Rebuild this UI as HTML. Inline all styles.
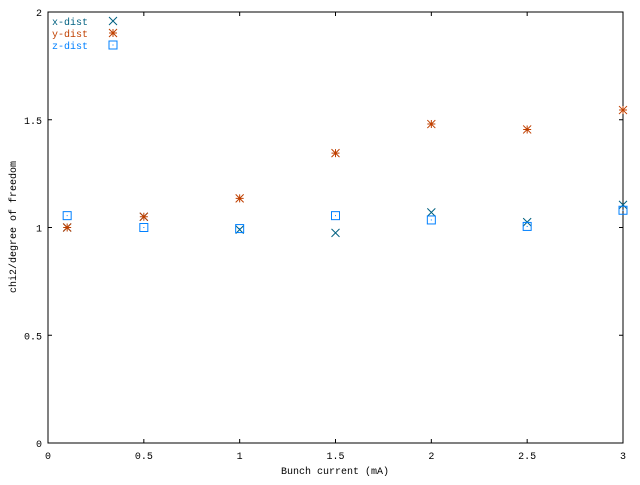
<!DOCTYPE html>
<html><head><meta charset="utf-8"><style>
body{margin:0;background:#fff}
svg text{font-family:"Liberation Mono",monospace;font-size:10px}
</style></head><body>
<svg id="chart" width="640" height="480" xmlns="http://www.w3.org/2000/svg">
<rect x="0" y="0" width="640" height="480" fill="#fff"/>
<g id="axes"></g>
<g id="marks"></g>
<text x="335" y="474" text-anchor="middle">Bunch current (mA)</text>
<text transform="translate(16,227) rotate(-90)" text-anchor="middle">chi2/degree of freedom</text>
<g>
<text x="52" y="25" fill="#006080">x-dist</text>
<text x="52" y="37" fill="#c04000">y-dist</text>
<text x="52" y="49" fill="#0080ff">z-dist</text>
</g>
</svg>
<script>
const xValues=[0.1,0.5,1,1.5,2,2.5,3];
const xDist=[1.0,1.05,0.99,0.975,1.07,1.025,1.105];
const yDist=[1.0,1.05,1.135,1.345,1.48,1.455,1.545];
const zDist=[1.055,1.0,0.995,1.055,1.035,1.005,1.08];
const xTicks=[0,0.5,1,1.5,2,2.5,3];
const yTicks=[0,0.5,1,1.5,2];
const X0=48,X1=623,Y0=443,Y1=12;
const sx=v=>X0+v/3*(X1-X0);
const sy=v=>Y0-v/2*(Y0-Y1);
const NS="http://www.w3.org/2000/svg";
function mk(tag,attrs,parent){const e=document.createElementNS(NS,tag);for(const k in attrs)e.setAttribute(k,attrs[k]);parent.appendChild(e);return e;}
const axes=document.getElementById('axes'),marks=document.getElementById('marks');
const frame=mk('rect',{x:X0,y:Y1,width:X1-X0,height:Y0-Y1,fill:'none',stroke:'#000','stroke-width':1},axes);


xTicks.forEach(t=>{const x=sx(t);
 const l=mk('path',{d:`M${x} ${Y0}v-4M${x} ${Y1}v4`,stroke:'#000'},axes);
 
 
 const tx=mk('text',{x:x,y:Y0+16,'text-anchor':'middle'},axes);tx.textContent=t;
 
 });
yTicks.forEach(t=>{const y=sy(t);
 const l=mk('path',{d:`M${X0} ${y}h4M${X1} ${y}h-4`,stroke:'#000'},axes);
 
 
 const tx=mk('text',{x:X0-6,y:y+4,'text-anchor':'end'},axes);tx.textContent=t;
 
 });
function cross(x,y,c,p){return mk('path',{d:`M${x-4} ${y-4}l8 8M${x-4} ${y+4}l8 -8`,stroke:c,fill:'none'},p);}
function star(x,y,c,p){return mk('path',{d:`M${x-4} ${y-4}l8 8M${x-4} ${y+4}l8 -8M${x-4} ${y}h8M${x} ${y-4}v8`,stroke:c,fill:'none'},p);}
function box(x,y,c,p){const g=mk('g',{},p);mk('rect',{x:x-4,y:y-4,width:8,height:8,fill:'none',stroke:c},g);mk('rect',{x:x-0.5,y:y-0.5,width:1,height:1,fill:c},g);return g;}
xValues.forEach((v,i)=>{
 const a=cross(sx(v),sy(xDist[i]),'#006080',marks);
 
 
 const b=star(sx(v),sy(yDist[i]),'#c04000',marks);
 
 
 const c=box(sx(v),sy(zDist[i]),'#0080ff',marks);
 
 
});
const l1=cross(113,21,'#006080',marks);


const l2=star(113,33,'#c04000',marks);


const l3=box(113,45,'#0080ff',marks);


</script>
</body></html>
